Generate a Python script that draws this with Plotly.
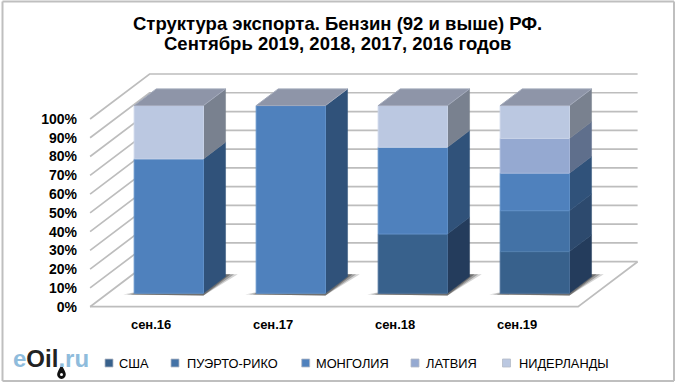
import plotly.graph_objects as go

# ---- data ----
categories = ["сен.16", "сен.17", "сен.18", "сен.19"]
series_names = ["США", "ПУЭРТО-РИКО", "МОНГОЛИЯ", "ЛАТВИЯ", "НИДЕРЛАНДЫ"]
usa = [0, 0, 31.6, 22.2]
puerto_rico = [0, 0, 0, 21.8]
mongolia = [71.6, 100, 46.2, 20.0]
latvia = [0, 0, 0, 18.5]
netherlands = [28.4, 0, 22.2, 17.5]
tick_values = [0, 10, 20, 30, 40, 50, 60, 70, 80, 90, 100]
tick_labels = ["0%", "10%", "20%", "30%", "40%", "50%", "60%", "70%", "80%", "90%", "100%"]
title_lines = ["Структура экспорта. Бензин (92 и выше) РФ.", "Сентябрь 2019, 2018, 2017, 2016 годов"]
values = [usa, puerto_rico, mongolia, latvia, netherlands]

# ---- styles ----
front_colors = ["#38618c", "#4372a6", "#4f81bd", "#95a9d1", "#bbc8e1"]
side_colors = ["#243c5c", "#2d4a6e", "#30527a", "#5f6f8c", "#79818f"]
edge_colors = ["#4a6f99", "#5480b0", "#6090c8", "#a5b7da", "#c8d3e8"]
top_color = "#8e95a8"
grid_color = "#bdbdbd"
W, H = 680, 385

# Scale: category step and percent in pixels, and the oblique depth axis
STEP_PX, PCT_PX = 122.0, 1.877
ZERO_X_PX, ZERO_Y_PX = 151.1, 306.7
DEPTH_X = 59.5 / STEP_PX
DEPTH_Y = 45.0 / PCT_PX
X_LOW, X_HIGH = -0.5, 3.5
BAR_HALF = 0.284
BAR_FRONT = 0.298
BAR_BACK = 0.669


def project(x, y, d):
    return x + d * DEPTH_X, y + d * DEPTH_Y


def polygons(items):
    xs, ys = [], []
    for poly in items:
        for p in poly:
            xs.append(p[0])
            ys.append(p[1])
        xs.append(poly[0][0])
        ys.append(poly[0][1])
        xs.append(None)
        ys.append(None)
    return xs, ys


def box_faces(i, low, high):
    x0, x1 = i - BAR_HALF, i + BAR_HALF
    front = [project(x0, low, BAR_FRONT), project(x1, low, BAR_FRONT),
             project(x1, high, BAR_FRONT), project(x0, high, BAR_FRONT)]
    side = [project(x1, low, BAR_FRONT), project(x1, low, BAR_BACK),
            project(x1, high, BAR_BACK), project(x1, high, BAR_FRONT)]
    top = [project(x0, high, BAR_FRONT), project(x1, high, BAR_FRONT),
           project(x1, high, BAR_BACK), project(x0, high, BAR_BACK)]
    return front, side, top


fig = go.Figure()

# Walls and floor
for v in tick_values:
    a = (X_LOW, v)
    b = project(X_LOW, v, 1)
    c = project(X_HIGH, v, 1)
    fig.add_trace(go.Scatter(x=[a[0], b[0], c[0]], y=[a[1], b[1], c[1]], mode="lines",
                             line=dict(color=grid_color, width=1.7), showlegend=False, hoverinfo="skip"))
fl = [project(X_HIGH, 0, 1), project(X_HIGH, 0, 0), (X_LOW, 0)]
fig.add_trace(go.Scatter(x=[p[0] for p in fl], y=[p[1] for p in fl], mode="lines",
                         line=dict(color=grid_color, width=1.7), showlegend=False, hoverinfo="skip"))

# Floor shadows: soft outer layers and a dark core next to the bar
for op, grow in [(0.2, 0.0), (0.3, -0.03), (0.4, -0.06)]:
    sx, sy = [], []
    for i in range(len(categories)):
        x0, x1 = i - BAR_HALF, i + BAR_HALF
        shadow = [project(x0 - 0.09 - grow, -0.6, BAR_FRONT), project(x1, -1.2, BAR_FRONT),
                  project(x1 + 0.10 + grow, 1.2, BAR_BACK), project(x1, 1.2, BAR_BACK)]
        p, q = polygons([shadow])
        sx += p
        sy += q
    fig.add_trace(go.Scatter(x=sx, y=sy, mode="lines", fill="toself", fillcolor=f"rgba(40,40,40,{op})",
                             line=dict(width=0), showlegend=False, hoverinfo="skip"))

# Bars
stack = [0.0] * len(categories)
for s, name in enumerate(series_names):
    fronts, sides = [], []
    for i in range(len(categories)):
        v = values[s][i]
        if v <= 0:
            continue
        f, sd, t = box_faces(i, stack[i], stack[i] + v)
        fronts.append(f)
        sides.append(sd)
        stack[i] += v
    x, y = polygons(sides)
    fig.add_trace(go.Scatter(x=x, y=y, mode="lines", fill="toself", fillcolor=side_colors[s],
                             line=dict(color=side_colors[s], width=0.5), name=name + " (бок)",
                             showlegend=False, hoverinfo="skip"))
    x, y = polygons(fronts)
    fig.add_trace(go.Scatter(x=x, y=y, mode="lines", fill="toself", fillcolor=front_colors[s],
                             line=dict(color=edge_colors[s], width=1), name=name,
                             showlegend=False, hoverinfo="skip"))

final_tops = [box_faces(i, 0, stack[i])[2] for i in range(len(categories))]
x, y = polygons(final_tops)
fig.add_trace(go.Scatter(x=x, y=y, mode="lines", fill="toself", fillcolor=top_color,
                         line=dict(color="#a3aabb", width=1), showlegend=False, hoverinfo="skip"))

# Manual legend row (tight spacing the built-in legend cannot reach)
legend_marks = [109, 175, 305.7, 415, 506.5]
legend_text = [119.3, 186.7, 315.7, 426, 519]
LEG_Y = 363
shapes = []
annotations = []
for s, name in enumerate(series_names):
    mx = legend_marks[s]
    shapes.append(dict(type="rect", xref="paper", yref="paper",
                       x0=(mx - 4) / W, x1=(mx + 4) / W, y0=1 - (LEG_Y + 4) / H, y1=1 - (LEG_Y - 4) / H,
                       fillcolor=front_colors[s], line=dict(color="#b4bac6", width=0.8)))
    annotations.append(dict(xref="paper", yref="paper", x=legend_text[s] / W, y=1 - LEG_Y / H,
                            xanchor="left", yanchor="middle", showarrow=False, text=name, borderpad=0,
                            xshift=-1,
                            font=dict(family="Liberation Sans", size=12.8, color="#000000")))

# Outer frame
frame = "#bfbfbf"
for (ax, ay, bx, by) in [(2.5, 1.5, 674, 1.5), (2.5, 1.5, 2.5, 381), (2.5, 381, 674, 381), (674, 1.5, 674, 381)]:
    shapes.append(dict(type="line", xref="paper", yref="paper", x0=ax / W, x1=bx / W, y0=1 - ay / H, y1=1 - by / H,
                       line=dict(color=frame, width=2)))

# Logo
annotations.append(dict(xref="paper", yref="paper", x=11 / W, y=1 - 358 / H, xanchor="left", yanchor="middle",
                        showarrow=False,
                        text="<b><span style='color:#8fbcdc'>e</span>Oil<span style='color:#8fbcdc'>.ru</span></b>",
                        font=dict(family="Liberation Sans", size=24, color="#222222")))
shapes.append(dict(type="path", xref="x domain", yref="y domain",
                   path=f"M {61.5/W} {1-365/H} C {58/W} {1-371/H} {56/W} {1-374/H} {58/W} {1-377/H} "
                        f"C {60/W} {1-379.5/H} {63/W} {1-379.5/H} {65/W} {1-377/H} "
                        f"C {67/W} {1-374/H} {65/W} {1-371/H} {61.5/W} {1-365/H} Z",
                   fillcolor="#111111", line=dict(width=0)))
shapes.append(dict(type="circle", xref="paper", yref="paper", x0=60 / W, x1=63 / W,
                   y0=1 - 376 / H, y1=1 - 373 / H, fillcolor="#ffffff", line=dict(width=0)))
# Title
for line, cy in zip(title_lines, [23, 43]):
    annotations.append(dict(xref="paper", yref="paper", x=337 / W, y=1 - cy / H, xanchor="center", yanchor="middle",
                            showarrow=False, text=f"<b>{line}</b>",
                            font=dict(family="Liberation Sans", size=18.5, color="#000000")))

fig.update_layout(
    width=W, height=H, autosize=False,
    margin=dict(l=0, r=0, t=0, b=0),
    paper_bgcolor="white", plot_bgcolor="white", showlegend=False,
    shapes=shapes, annotations=annotations,
    xaxis=dict(range=[-ZERO_X_PX / STEP_PX, (W - ZERO_X_PX) / STEP_PX], tickmode="array",
               tickvals=list(range(len(categories))), ticktext=[f"<b>{c}</b>" for c in categories],
               tickfont=dict(family="Liberation Sans", size=13, color="#000"),
               showgrid=False, zeroline=False, showline=False, ticks="",
               anchor="free", position=1 - 315 / H, fixedrange=True),
    yaxis=dict(range=[-(H - ZERO_Y_PX) / PCT_PX, ZERO_Y_PX / PCT_PX], tickmode="array",
               tickvals=tick_values, ticktext=[f"<b>{t}</b>" for t in tick_labels],
               tickfont=dict(family="Liberation Sans", size=14, color="#000"),
               showgrid=False, zeroline=False, showline=False, ticks="",
               anchor="free", position=77 / W, fixedrange=True),
)
fig.write_html("out.html", config={"displayModeBar": False},
               post_script="document.body.style.margin='0';document.body.style.overflow='hidden';")
